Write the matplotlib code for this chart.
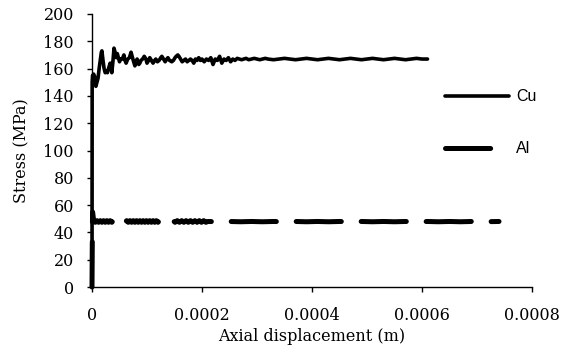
import numpy as np
import matplotlib
matplotlib.use("Agg")
import matplotlib.pyplot as plt
from matplotlib.ticker import FuncFormatter

# Cu series: axial displacement (micrometres) and stress (MPa)
cu_x_um = [0, 0.3, 1, 3, 5, 7, 9, 11, 13, 15, 17, 18, 20, 22, 24, 26, 28, 30, 33, 35,
           36, 38, 40, 42, 44, 46, 48, 50, 52, 55, 58, 60, 62, 65, 68, 71, 73, 75, 78, 80,
           82, 85, 87, 89, 92, 95, 98, 100, 103, 105, 108, 111, 114, 116, 119, 122, 125, 127,
           130, 133, 136, 138, 141, 145, 148, 151, 153, 156, 158, 161, 164, 167, 170, 173,
           176, 179, 182, 185, 188, 191, 194, 197, 200, 204, 208, 212, 216, 220, 224, 228,
           232, 236, 240, 244, 248, 252, 256, 260, 264, 268, 272, 276, 280, 285, 290, 295,
           300, 305, 310, 315, 320, 330, 340, 350, 360, 370, 380, 390, 400, 410, 420, 430,
           440, 450, 460, 470, 480, 490, 500, 510, 520, 530, 540, 550, 560, 570, 580, 590,
           600, 610]
cu_stress = [0, 150, 155, 156, 154, 147, 150, 153, 160, 166, 172, 173, 166, 160, 157, 158, 157, 160, 164, 160,
             157, 165, 175, 172, 168, 171, 168, 165, 167, 167, 170, 166, 164, 167, 168, 172, 169, 166, 162, 165,
             167, 163, 164, 166, 167, 169, 167, 164, 166, 168, 166, 164, 166, 167, 165, 166, 168, 169,
             167, 165, 167, 168, 166, 165, 166, 168, 169, 170, 169, 167, 165, 166, 167, 165,
             166, 167, 166, 164, 167, 166, 168, 166, 167, 165, 167, 166, 168, 163, 167, 166,
             169, 164, 167, 166, 168, 165, 167, 166, 167.5, 167, 166.5, 167, 167.5, 166.5, 167, 167.5,
             167, 166.5, 167, 167.5, 167, 166.5, 167, 167.5, 167, 166.5, 167, 167.5, 167, 166.5, 167, 167.5,
             167, 166.5, 167, 167.5, 167, 166.5, 167, 167.5, 167, 166.5, 167, 167.5, 167, 166.5, 167, 167.5,
             167, 167]

# Al series (one x line pairs with one stress line, 10 values each)
al_x_um = [0, 0.5, 1,
           3, 6, 9, 12, 15, 18, 21, 24, 27, 30,
           33, 36, 39, 42, 45, 48, 51, 54, 57, 60,
           63, 66, 69, 72, 75, 78, 81, 84, 87, 90,
           93, 96, 99, 102, 105, 108, 111, 114, 117, 120,
           123,
           127, 131, 135, 139, 143, 147, 151, 155, 159, 163,
           167, 171, 175, 179, 183, 187, 191, 195, 199, 203,
           207, 211,
           230, 250, 270, 290, 310, 330, 350, 370, 390, 410,
           430, 450, 470, 490, 510, 530, 550, 570, 590, 610,
           630, 650, 670, 690, 710, 740]
al_stress = [0, 30, 55,
             48.6, 47.4, 48.6, 47.4, 48.6, 47.4, 48.6, 47.4, 48.6, 47.4,
             48.6, 47.4, 48.6, 47.4, 48.6, 47.4, 48.6, 47.4, 48.6, 47.4,
             48.6, 47.4, 48.6, 47.4, 48.6, 47.4, 48.6, 47.4, 48.6, 47.4,
             48.6, 47.4, 48.6, 47.4, 48.6, 47.4, 48.6, 47.4, 48.6, 47.4,
             48.6,
             47.4, 48.6, 47.4, 48.6, 47.4, 48.6, 47.4, 48.6, 47.4, 48.6,
             47.4, 48.6, 47.4, 48.6, 47.4, 48.6, 47.4, 48.6, 47.4, 48.6,
             47.4, 48.0,
             47.8, 48, 47.8, 48, 47.8, 48, 47.8, 48, 47.8, 48,
             47.8, 48, 47.8, 48, 47.8, 48, 47.8, 48, 47.8, 48,
             47.8, 48, 47.8, 48, 47.8, 48]

x_ticks = [0, 0.0002, 0.0004, 0.0006, 0.0008]
y_ticks = [0, 20, 40, 60, 80, 100, 120, 140, 160, 180, 200]
x_label = "Axial displacement (m)"
y_label = "Stress (MPa)"
series_names = ["Cu", "Al"]

plt.rcParams['lines.scale_dashes'] = False

fig = plt.figure(figsize=(5.62, 3.51), dpi=100)
ax = fig.add_axes([92/562, 1 - 287/351, (532 - 92)/562, (287 - 14)/351])

cu_x = np.array(cu_x_um) * 1e-6
al_x = np.array(al_x_um) * 1e-6

ax.plot(cu_x, cu_stress, color='black', lw=2.6, solid_joinstyle='round',
        solid_capstyle='round', label=series_names[0], zorder=3, clip_on=False)
ax.plot(al_x, al_stress, color='black', lw=3.6, dashes=(32.5, 14.3),
        dash_capstyle='round', dash_joinstyle='round', label=series_names[1], zorder=3,
        clip_on=False)

ax.set_xlim(0, 0.0008)
ax.set_ylim(0, 200)
ax.set_xticks(x_ticks)
ax.set_yticks(y_ticks)
ax.xaxis.set_major_formatter(FuncFormatter(lambda v, p: "0" if v == 0 else "%g" % v))

for s in ['top', 'right']:
    ax.spines[s].set_visible(False)
for s in ['left', 'bottom']:
    ax.spines[s].set_linewidth(1.0)
    ax.spines[s].set_color('black')

serif = 'DejaVu Serif'
ax.tick_params(axis='both', direction='out', length=3.5, width=1.0, colors='black',
               labelsize=11.5)
ax.tick_params(axis='y', pad=9.5)
ax.tick_params(axis='x', pad=11)
for lab in ax.get_xticklabels() + ax.get_yticklabels():
    lab.set_fontfamily(serif)

ax.set_xlabel(x_label, fontfamily=serif, fontsize=11.5, labelpad=3)
ax.set_ylabel(y_label, fontfamily=serif, fontsize=11.5, labelpad=9)

leg = ax.legend(loc='upper left', bbox_to_anchor=(431/562, 1 - 75/351),
                bbox_transform=fig.transFigure, frameon=False,
                handlelength=4.0, handletextpad=0.45, labelspacing=2.3,
                prop={'family': 'Liberation Sans', 'size': 11.5})

fig.savefig("out.png", dpi=100)
